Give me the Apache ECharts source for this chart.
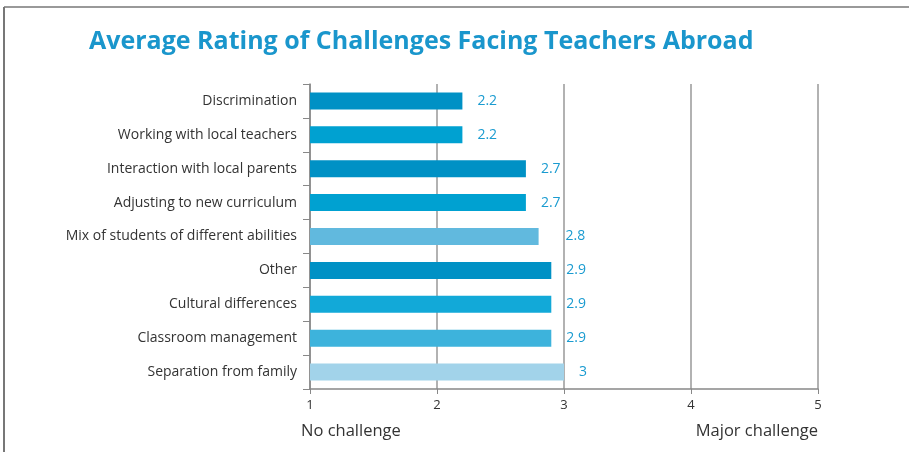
<!DOCTYPE html>
<html>
<head>
<meta charset="utf-8">
<script src="https://cdn.jsdelivr.net/npm/echarts@6/dist/echarts.min.js"></script>
<style>html,body{margin:0;padding:0;background:#fff;}#c{width:909px;height:452px;}</style>
</head>
<body>
<div id="c"></div>
<script>
const categories = ["Discrimination","Working with local teachers","Interaction with local parents","Adjusting to new curriculum","Mix of students of different abilities","Other","Cultural differences","Classroom management","Separation from family"];
const values = [2.2, 2.2, 2.7, 2.7, 2.8, 2.9, 2.9, 2.9, 3];
const barColors = ["#0091c5","#00a1d1","#0091c5","#00a1d1","#61b9de","#0091c5","#12a9d8","#3db3dc","#a2d3ea"];
const xTicks = [1, 2, 3, 4, 5];

const chart = echarts.init(document.getElementById('c'));
chart.setOption({
  animation: false,
  title: {
    text: 'Average Rating of Challenges Facing Teachers Abroad',
    left: 84, top: 24,
    textStyle: { fontFamily: 'Open Sans', fontWeight: 'bold', fontSize: 25, color: '#1a96cc' }
  },
  grid: { left: 310, right: 91, top: 84, bottom: 63 },
  xAxis: {
    type: 'value', min: xTicks[0], max: xTicks[xTicks.length-1], interval: 1,
    axisLine: { show: true, lineStyle: { color: '#888', width: 1.5 } },
    axisTick: { show: true, length: 5, lineStyle: { color: '#888' } },
    axisLabel: { color: '#333', fontSize: 13, fontFamily: 'Open Sans', margin: 10 },
    splitLine: { show: true, lineStyle: { color: '#999', width: 1.5 } }
  },
  yAxis: {
    type: 'category', data: categories, inverse: true,
    axisLine: { show: true, lineStyle: { color: '#888', width: 1.5 } },
    axisTick: { show: true, length: 7, lineStyle: { color: '#888' } },
    axisLabel: { color: '#333', fontSize: 14, fontFamily: 'Open Sans', margin: 13 }
  },
  series: [{
    type: 'bar',
    data: values.map((v, i) => {
      const d = { value: v, itemStyle: { color: barColors[i] } };
      if (v === 2.8) d.label = { offset: [12, 0] };
      return d;
    }),
    barWidth: 17,
    label: { show: true, position: 'right', distance: 15, color: '#1a9bd0', fontSize: 14, fontFamily: 'Open Sans' }
  }],
  graphic: [
    { type: 'line', shape: { x1: 4, y1: 7, x2: 909, y2: 7 }, style: { stroke: '#777', lineWidth: 1.5 } },
    { type: 'line', shape: { x1: 4, y1: 7, x2: 4, y2: 452 }, style: { stroke: '#777', lineWidth: 2 } },
    { type: 'text', left: 301, top: 423, style: { text: 'No challenge', fill: '#333', fontSize: 16.5, fontFamily: 'Open Sans' } },
    { type: 'text', right: 91, top: 423, style: { text: 'Major challenge', fill: '#333', fontSize: 16.5, fontFamily: 'Open Sans' } }
  ]
});
</script>
</body>
</html>
